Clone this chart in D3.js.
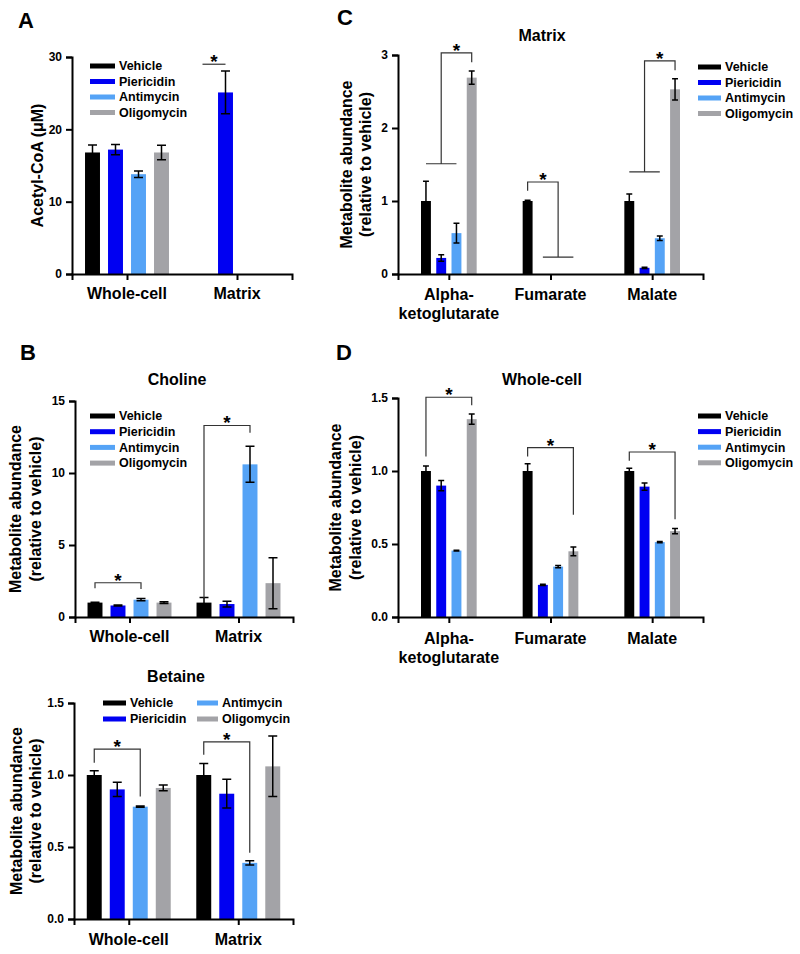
<!DOCTYPE html>
<html>
<head>
<meta charset="utf-8">
<script src="https://cdn.jsdelivr.net/npm/d3@7"></script>
<style>
  body { margin: 0; background: #fff; }
  svg { font-family: Arial, "Liberation Sans", sans-serif; font-weight: bold; }
</style>
</head>
<body>
<div id="fig"></div>
<script>
// series shared by every panel
const series = ["Vehicle", "Piericidin", "Antimycin", "Oligomycin"];
const colors = ["#000000", "#0000f2", "#55a3f6", "#a3a3a7"];

// A: acetyl-CoA
const acoaGroups = ["Whole-cell", "Matrix"];
const acoaMean = [[16.8, 17.2, 13.8, 16.8], [null, 25.1, null, null]];
const acoaErr = [[1.05, 0.7, 0.45, 1.0], [null, 2.95, null, null]];
const acoaTicks = [0, 10, 20, 30];

// B: choline and betaine
const compGroups = ["Whole-cell", "Matrix"];
const cholineMean = [[1.0, 0.8, 1.2, 1.0], [1.0, 0.9, 10.6, 2.35]];
const cholineErr = [[0.03, 0.04, 0.08, 0.06], [0.35, 0.2, 1.25, 1.77]];
const cholineTicks = [0, 5, 10, 15];
const betaineMean = [[1.0, 0.9, 0.78, 0.91], [1.0, 0.87, 0.39, 1.06]];
const betaineErr = [[0.03, 0.05, 0.004, 0.02], [0.08, 0.1, 0.015, 0.21]];
const betaineTicks = [0, 0.5, 1.0, 1.5];

// C and D: TCA metabolites
const tcaGroups = ["Alpha-ketoglutarate", "Fumarate", "Malate"];
const tcaLabels = [["Alpha-", "ketoglutarate"], ["Fumarate"], ["Malate"]];
const matrixMean = [[1.0, 0.22, 0.56, 2.69], [1.0, null, null, null], [1.0, 0.085, 0.49, 2.53]];
const matrixErr = [[0.27, 0.045, 0.135, 0.09], [0.01, null, null, null], [0.095, 0.008, 0.03, 0.145]];
const matrixTicks = [0, 1, 2, 3];
const wholeMean = [[1.0, 0.9, 0.455, 1.355], [1.0, 0.22, 0.345, 0.45], [1.0, 0.893, 0.513, 0.588]];
const wholeErr = [[0.035, 0.035, 0.003, 0.035], [0.05, 0.004, 0.008, 0.03], [0.018, 0.025, 0.004, 0.018]];
const wholeTicks = [0, 0.5, 1.0, 1.5];

// significance brackets (values in data units)
const acoaBrackets = [
  { group: "Matrix", left: "Vehicle", right: "Piericidin", top: 29.0, leftEnd: 29.0, rightEnd: 29.0 }
];
const cholineBrackets = [
  { group: "Whole-cell", left: "Vehicle", right: "Antimycin", top: 2.38, leftEnd: 2.0, rightEnd: 1.94 },
  { group: "Matrix", left: "Vehicle", right: "Antimycin", top: 13.3, leftEnd: 1.32, rightEnd: 12.8 }
];
const betaineBrackets = [
  { group: "Whole-cell", left: "Vehicle", right: "Antimycin", top: 1.18, leftEnd: 1.085, rightEnd: 0.85 },
  { group: "Matrix", left: "Vehicle", right: "Antimycin", top: 1.23, leftEnd: 1.14, rightEnd: 0.46 }
];
const matrixBrackets = [
  { group: "Alpha-ketoglutarate", left: "Piericidin", right: "Oligomycin", top: 3.03, leftEnd: 1.51, rightEnd: 2.9, bar: ["Vehicle", "Antimycin"], barSide: "left" },
  { group: "Fumarate", left: "Vehicle", right: "Antimycin", top: 1.26, leftEnd: 1.14, rightEnd: 0.23, bar: ["Piericidin", "Oligomycin"], barSide: "right" },
  { group: "Malate", left: "Piericidin", right: "Oligomycin", top: 2.92, leftEnd: 1.4, rightEnd: 2.79, bar: ["Vehicle", "Antimycin"], barSide: "left" }
];
const wholeBrackets = [
  { group: "Alpha-ketoglutarate", left: "Vehicle", right: "Oligomycin", top: 1.505, leftEnd: 1.1, rightEnd: 1.45 },
  { group: "Fumarate", left: "Vehicle", right: "Oligomycin", top: 1.16, leftEnd: 1.1, rightEnd: 0.7 },
  { group: "Malate", left: "Vehicle", right: "Oligomycin", top: 1.13, leftEnd: 1.07, rightEnd: 0.67 }
];

const svg = d3.select("#fig").append("svg")
  .attr("width", 800)
  .attr("height", 954);

function drawPanel(p) {
  const g = svg.append("g");
  const x = d3.scalePoint().domain(p.groups).range(p.xRange).padding(0.5);
  const sub = d3.scaleBand().domain(series).range([-p.half, p.half])
    .paddingInner(0.35).paddingOuter(0.175);
  const y = d3.scaleLinear().domain([0, p.max]).range(p.yRange);
  const bw = sub.bandwidth();
  const cx = (grp, s) => x(grp) + sub(s) + bw / 2;

  // bars
  p.groups.forEach((grp, gi) => {
    series.forEach((s, si) => {
      const v = p.mean[gi][si];
      if (v == null) return;
      g.append("rect")
        .attr("x", x(grp) + sub(s))
        .attr("y", y(v))
        .attr("width", bw)
        .attr("height", y(0) - y(v))
        .attr("fill", colors[si]);
      const e = p.err[gi][si];
      const c = cx(grp, s);
      const cap = bw * 0.3;
      g.append("path")
        .attr("d", `M${c},${y(v + e)}V${y(Math.max(0, v - e))}` +
          `M${c - cap},${y(v + e)}H${c + cap}M${c - cap},${y(Math.max(0, v - e))}H${c + cap}`)
        .attr("stroke", "#000")
        .attr("stroke-width", 1.5)
        .attr("fill", "none");
    });
  });

  // axes
  const yAxis = g.append("g")
    .attr("transform", `translate(${p.xRange[0]},0)`)
    .call(d3.axisLeft(y).tickValues(p.ticks).tickSizeOuter(0).tickSize(6).tickPadding(4)
      .tickFormat(p.fmt));
  const xAxis = g.append("g")
    .attr("transform", `translate(0,${p.yRange[0]})`)
    .call(d3.axisBottom(x).tickSizeOuter(0).tickSize(6).tickFormat(""));
  [yAxis, xAxis].forEach(a => {
    a.select(".domain").attr("stroke-width", 2).attr("stroke", "#000");
    a.selectAll(".tick line").attr("stroke-width", 2).attr("stroke", "#000");
  });
  yAxis.selectAll(".tick text")
    .style("font-size", "12px")
    .style("font-weight", "bold")
    .style("font-family", "Arial, 'Liberation Sans', sans-serif")
    .attr("fill", "#000");

  // category labels
  p.groups.forEach((grp, gi) => {
    const lines = p.labels ? p.labels[gi] : [grp];
    lines.forEach((ln, li) => {
      g.append("text")
        .attr("x", x(grp))
        .attr("y", p.labelY + li * 19)
        .attr("text-anchor", "middle")
        .style("font-size", "16px")
        .text(ln);
    });
  });

  // title
  if (p.title) {
    g.append("text")
      .attr("x", p.titleX)
      .attr("y", p.titleY)
      .attr("text-anchor", "middle")
      .style("font-size", "16px")
      .text(p.title);
  }

  // y label
  const yc = (p.yRange[0] + p.yRange[1]) / 2;
  p.yLabel.forEach((ln, li) => {
    g.append("text")
      .attr("transform", `translate(${p.yLabelX[li] + 5.5},${yc}) rotate(-90)`)
      .attr("text-anchor", "middle")
      .style("font-size", "16px")
      .text(ln);
  });

  // panel letter
  if (p.letter) {
    g.append("text")
      .attr("x", p.letter[1])
      .attr("y", p.letter[2])
      .style("font-size", "22px")
      .text(p.letter[0]);
  }

  // legend
  series.forEach((s, si) => {
    const pos = p.legend(si);
    g.append("rect")
      .attr("x", pos[0])
      .attr("y", pos[1] - 2.5)
      .attr("width", pos[2])
      .attr("height", 5)
      .attr("fill", colors[si]);
    g.append("text")
      .attr("x", pos[0] + pos[2] + 4)
      .attr("y", pos[1])
      .attr("dy", "0.35em")
      .style("font-size", "12.5px")
      .text(s);
  });

  // significance brackets
  p.brackets.forEach(b => {
    const xl = cx(b.group, b.left), xr = cx(b.group, b.right);
    let d = `M${xl},${y(b.leftEnd)}V${y(b.top)}H${xr}V${y(b.rightEnd)}`;
    if (b.bar) {
      const yb = y(b.barSide === "left" ? b.leftEnd : b.rightEnd);
      d += `M${cx(b.group, b.bar[0])},${yb}H${cx(b.group, b.bar[1])}`;
    }
    g.append("path")
      .attr("d", d)
      .attr("fill", "none")
      .attr("stroke", "#333")
      .attr("stroke-width", 1.2);
    g.append("text")
      .attr("x", (xl + xr) / 2)
      .attr("y", y(b.top) + 4)
      .attr("text-anchor", "middle")
      .style("font-size", "19px")
      .text("*");
  });
}

const ylab = ["Metabolite abundance", "(relative to vehicle)"];

drawPanel({
  groups: acoaGroups, mean: acoaMean, err: acoaErr, ticks: acoaTicks, max: 30,
  xRange: [72, 292], yRange: [274, 57], half: 46, fmt: d3.format("d"),
  labelY: 299, yLabel: ["Acetyl-CoA (μM)"], yLabelX: [37],
  letter: ["A", 18, 28], brackets: acoaBrackets,
  legend: i => [90, 66 + i * 15.5, 25]
});

drawPanel({
  groups: compGroups, mean: cholineMean, err: cholineErr, ticks: cholineTicks, max: 15,
  xRange: [75, 293], yRange: [617, 401], half: 46, fmt: d3.format("d"),
  labelY: 642, yLabel: ylab, yLabelX: [15, 35],
  title: "Choline", titleX: 177, titleY: 385,
  letter: ["B", 20, 360], brackets: cholineBrackets,
  legend: i => [90, 416 + i * 15.7, 25]
});

drawPanel({
  groups: compGroups, mean: betaineMean, err: betaineErr, ticks: betaineTicks, max: 1.5,
  xRange: [74, 293], yRange: [919, 703], half: 46, fmt: d3.format(".1f"),
  labelY: 945, yLabel: ylab, yLabelX: [16, 35],
  title: "Betaine", titleX: 176, titleY: 682,
  brackets: betaineBrackets,
  legend: i => [i < 2 ? 103 : 197, 703 + (i % 2) * 16, i < 2 ? 23 : 21]
});

drawPanel({
  groups: tcaGroups, labels: tcaLabels, mean: matrixMean, err: matrixErr, ticks: matrixTicks, max: 3,
  xRange: [398, 703], yRange: [274, 55], half: 30.5, fmt: d3.format("d"),
  labelY: 300, yLabel: ylab, yLabelX: [346, 365],
  title: "Matrix", titleX: 542, titleY: 41,
  letter: ["C", 337, 25], brackets: matrixBrackets,
  legend: i => [698, 67 + i * 15.5, 23]
});

drawPanel({
  groups: tcaGroups, labels: tcaLabels, mean: wholeMean, err: wholeErr, ticks: wholeTicks, max: 1.5,
  xRange: [398, 703], yRange: [617, 398], half: 30.5, fmt: d3.format(".1f"),
  labelY: 644, yLabel: ylab, yLabelX: [335, 355],
  title: "Whole-cell", titleX: 542, titleY: 385,
  letter: ["D", 336, 360], brackets: wholeBrackets,
  legend: i => [698, 416 + i * 15.6, 23]
});
</script>
</body>
</html>
